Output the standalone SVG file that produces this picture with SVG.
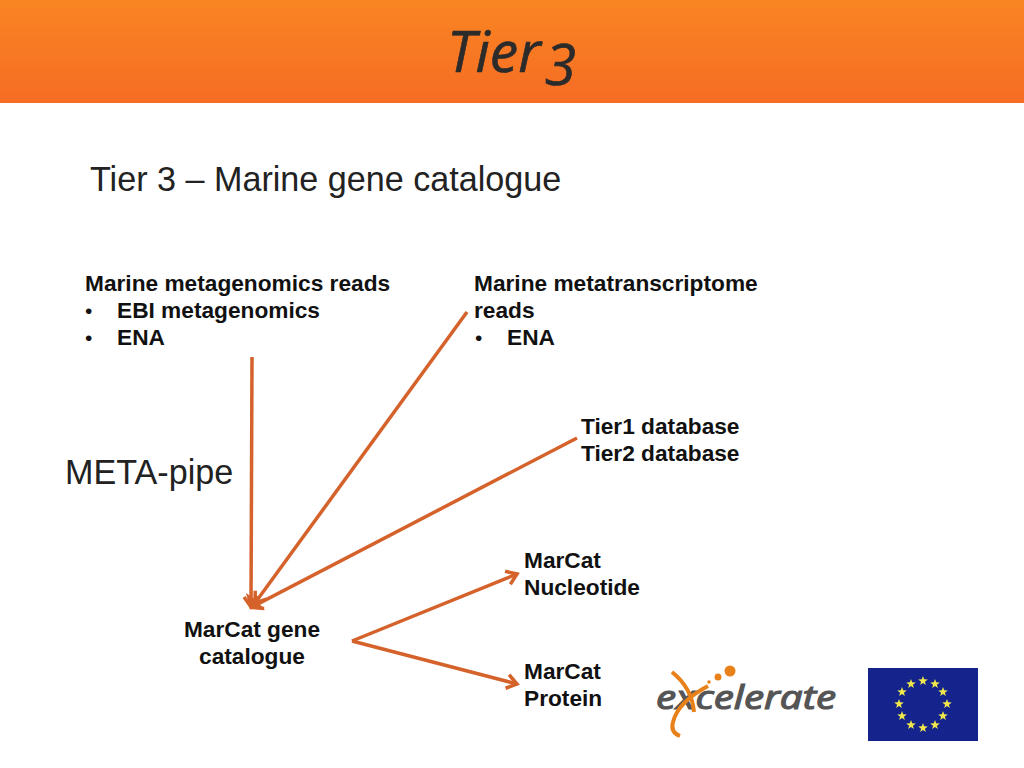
<svg xmlns="http://www.w3.org/2000/svg" width="1024" height="768" viewBox="0 0 1024 768">
<defs>
<linearGradient id="hdr" x1="0" y1="0" x2="0" y2="1"><stop offset="0" stop-color="#f98522"/><stop offset="1" stop-color="#f66c24"/></linearGradient>
<marker id="arr" markerUnits="userSpaceOnUse" markerWidth="24" markerHeight="24" refX="15" refY="12" orient="auto"><path d="M5 5 L15 12 L5 19" fill="none" stroke="#d4622a" stroke-width="3.500"/></marker>
<polygon id="star" points="0,-5 1.200,-1.700 4.800,-1.600 1.900,0.700 2.900,4.100 0,2.100 -2.900,4.100 -1.900,0.700 -4.800,-1.600 -1.200,-1.700" fill="#f0e84a"/>
</defs>
<style>
.b{font-family:"Liberation Sans",Arial,sans-serif;font-size:22.700px;font-weight:bold;fill:#111}
.d{font-family:"Liberation Sans",Arial,sans-serif;font-size:21px;fill:#111}
.r{font-family:"Liberation Sans",Arial,sans-serif;font-size:34.150px;fill:#222}
.c{stroke:#d4622a;stroke-width:3.500;fill:none;marker-end:url(#arr)}
.m{text-anchor:middle}
</style>
<rect width="1024" height="768" fill="#fff"/>
<g id="header"><rect width="1024" height="103" fill="url(#hdr)"/>
<text x="447" y="72" font-family="Open Sans,Noto Sans,sans-serif" font-size="57" font-style="italic" fill="#2b2b2b" stroke="#2b2b2b" stroke-width="0.600">Tier<tspan dx="4" dy="13">3</tspan></text></g>
<text x="90" y="191" class="r">Tier 3 – Marine gene catalogue</text>
<g id="connectors">
<path class="c" d="M252 357 L251 607"/>
<path class="c" d="M467 312 L255 603"/>
<path class="c" d="M577 438 L252 607"/>
<path d="M246 593 L250 609 L265 610 L256 600 Z" fill="#d4622a"/>
<path class="c" d="M352 641 L517 574"/>
<path class="c" d="M352 641 L517 684"/>
</g>
<g id="n1"><text x="85" y="291" class="b">Marine metagenomics reads</text>
<text x="85" y="318" class="d">•</text><text x="117" y="318" class="b">EBI metagenomics</text>
<text x="85" y="345" class="d">•</text><text x="117" y="345" class="b">ENA</text></g>
<g id="n2"><text x="474" y="291" class="b">Marine metatranscriptome</text>
<text x="474" y="318" class="b">reads</text>
<text x="475" y="345" class="d">•</text><text x="507" y="345" class="b">ENA</text></g>
<g id="n3"><text x="581" y="434" class="b">Tier1 database</text><text x="581" y="461" class="b">Tier2 database</text></g>
<g id="n4"><text x="65" y="484" class="r">META-pipe</text></g>
<g id="n5"><text x="524" y="568" class="b">MarCat</text><text x="524" y="595" class="b">Nucleotide</text></g>
<g id="n6"><text x="252" y="637" class="b m">MarCat gene</text><text x="252" y="664" class="b m">catalogue</text></g>
<g id="n7"><text x="524" y="679" class="b">MarCat</text><text x="524" y="706" class="b">Protein</text></g>
<g id="logo">
<text x="656" y="709" font-family="Open Sans,Noto Sans,sans-serif" font-size="33" font-style="italic" fill="#555" stroke="#555" stroke-width="1.200" textLength="180" lengthAdjust="spacingAndGlyphs">excelerate</text>
<path d="M672 672 Q692 688 694 712 M708 686 Q678 702 673 722 Q670 732 680 736" fill="none" stroke="#e8811a" stroke-width="4"/>
<circle cx="730" cy="671" r="5.500" fill="#e8811a"/><circle cx="718" cy="677" r="3.500" fill="#e8811a"/><circle cx="709" cy="682" r="1.800" fill="#e8811a"/>
</g>
<g id="flag"><rect x="868" y="668" width="110" height="73" fill="#14248c"/>
<use href="#star" x="923" y="681"/><use href="#star" x="935" y="684"/><use href="#star" x="943" y="692"/><use href="#star" x="947" y="704"/><use href="#star" x="943" y="716"/><use href="#star" x="935" y="725"/><use href="#star" x="923" y="728"/><use href="#star" x="911" y="725"/><use href="#star" x="902" y="716"/><use href="#star" x="899" y="704"/><use href="#star" x="902" y="692"/><use href="#star" x="911" y="684"/>
</g>
</svg>
